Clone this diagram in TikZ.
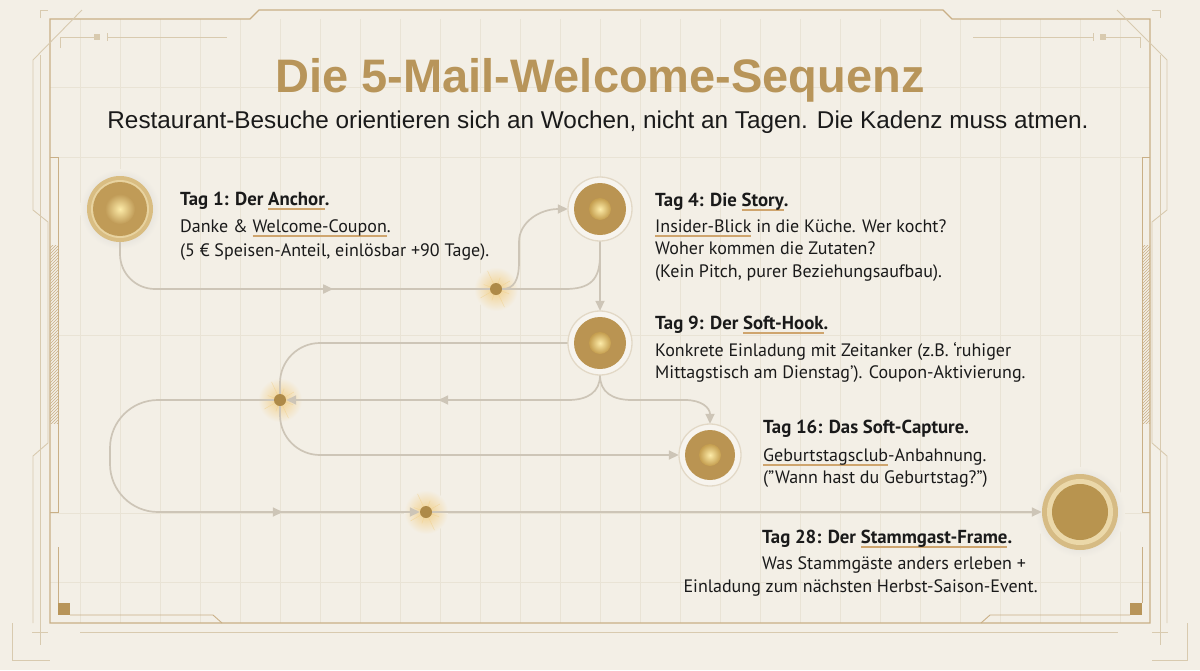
\documentclass[tikz,border=0pt]{standalone}
\usepackage{fontspec}
\setmainfont{PT Sans}
\newfontfamily\titlef{Liberation Sans}
\newfontfamily\bodyf{PT Sans}
\usetikzlibrary{arrows.meta,decorations.markings,patterns}
\definecolor{bg}{HTML}{F3EFE6}
\definecolor{gridc}{HTML}{E9E3D5}
\definecolor{framec}{HTML}{C9AF86}
\definecolor{decoc}{HTML}{D8CAAF}
\definecolor{connc}{HTML}{CDC5B7}
\definecolor{goldt}{HTML}{B8955A}
\definecolor{txt}{HTML}{1A1A1A}
\definecolor{ulc}{HTML}{CFA56E}
\definecolor{dotc}{HTML}{AE8A48}
\definecolor{glowc}{HTML}{F2D08A}
\definecolor{sqc}{HTML}{B8955A}
\definecolor{ringc}{HTML}{E2D8C6}
\definecolor{ringf}{HTML}{F7F4EE}
\definecolor{discc}{HTML}{BA9452}
\definecolor{sphin}{HTML}{FCEBA8}
\definecolor{sphout}{HTML}{C49D4E}
\definecolor{aout}{HTML}{D9BD82}
\definecolor{arim}{HTML}{E8D3A0}
\definecolor{ain}{HTML}{C09B57}
\definecolor{fout}{HTML}{D6BB84}
\definecolor{frim}{HTML}{EBD8A9}
\definecolor{fin}{HTML}{B8944F}
\newcommand\gul[1]{\setbox0\hbox{#1}\leavevmode\rlap{\textcolor{ulc}{\rule[-4.5pt]{\wd0}{1.3pt}}}\box0\relax}
\begin{document}
\begin{tikzpicture}[x=1pt,y=-1pt,
  conn/.style={draw=connc, line width=1.7pt},
  tip/.style={-{Triangle[length=10pt,width=9pt]}},
  midtip/.style={postaction={decorate,decoration={markings,mark=at position #1 with {\arrow{Triangle[length=10pt,width=9pt]}}}}},
  slot/.style={circle, inner sep=0pt, minimum size=#1},
  dotn/.style={circle, inner sep=0pt, minimum size=12pt},
  head/.style={anchor=base west, inner sep=0pt, text=txt, font=\bodyf\bfseries\fontsize{18.8}{22}\selectfont},
  body/.style={anchor=base west, inner sep=0pt, text=txt, font=\bodyf\fontsize{18}{22}\selectfont},
  gridl/.style={draw=gridc, line width=0.8pt},
  deco/.style={draw=decoc, line width=0.9pt},
  fr/.style={draw=framec, line width=1.2pt}]
\useasboundingbox (0,0) rectangle (1200,670);
\fill[bg] (0,0) rectangle (1200,670);
% grid
\foreach \gx in {80,120,...,1120} \draw[gridl] (\gx,19) -- (\gx,623);
\foreach \gy in {87,157,335,513,582} \draw[gridl] (50,\gy) -- (1150,\gy);
% frame
\draw[fr] (50,623) -- (50,19) -- (250,19) -- (259,10) -- (943,10) -- (952,19) -- (1150,19) -- (1150,623) -- cycle;
\draw[deco] (82,10) -- (33,60) -- (33,210) -- (48,222) -- (48,443) -- (33,456) -- (33,623);
\draw[deco] (40,55) -- (40,645);
\draw[deco] (1117,10) -- (1167,60) -- (1167,210) -- (1152,222) -- (1152,443) -- (1167,456) -- (1167,623);
\draw[deco] (1160,55) -- (1160,645);
\draw[deco] (40,18) -- (40,10) -- (48,10);
\draw[deco] (1152,10) -- (1160,10) -- (1160,18);
\draw[deco] (60,48) -- (60,37) -- (94,37);
\fill[decoc] (94,34) rectangle (100,40);
\draw[deco] (107,33) -- (107,41);
\draw[deco] (107,37) -- (227,37);
\draw[deco] (973,37) -- (1093,37);
\draw[deco] (1093,33) -- (1093,41);
\fill[decoc] (1100,34) rectangle (1106,40);
\draw[deco] (1106,37) -- (1140,37) -- (1140,48);
\draw[fr, line width=0.9pt] (50,157) -- (58,157) -- (58,512) -- (50,512);
\draw[fr, line width=0.9pt] (1150,157) -- (1142,157) -- (1142,512) -- (1150,512);
\fill[pattern=north east lines, pattern color=framec] (50,245) rectangle (58,423);
\fill[pattern=north east lines, pattern color=framec] (1142,245) rectangle (1150,423);
\draw[fr, line width=0.9pt] (58,547) -- (58,603);
\draw[fr, line width=0.9pt] (1142,547) -- (1142,603);
\fill[sqc] (58,603) rectangle (70,615);
\fill[sqc] (1130,603) rectangle (1142,615);
\draw[fr, line width=0.9pt] (70,615) -- (213,615) -- (222,623);
\draw[fr, line width=0.9pt] (1130,615) -- (990,615) -- (981,623);
\draw[deco] (80,632) -- (1118,632);
\draw[deco] (32,632) -- (48,632);
\draw[deco] (1152,632) -- (1168,632);
\draw[deco] (12,623) -- (12,660) -- (50,660);
\draw[deco] (1187,623) -- (1187,660) -- (1152,660);
% title
\node[anchor=base, inner sep=0pt, text=goldt, font=\titlef\bfseries\fontsize{47}{47}\selectfont] (title) at (600,92) {Die 5-Mail-Welcome-Sequenz};
\node[anchor=base, inner sep=0pt, text=txt, font=\titlef\fontsize{24.3}{24}\selectfont] (sub) at (598,128) {Restaurant-Besuche orientieren sich an Wochen, nicht an Tagen. Die Kadenz muss atmen.};
% node slots
\node[slot=66pt] (n1) at (120,209) {};
\node[slot=64pt] (n2) at (600,209) {};
\node[slot=64pt] (n3) at (600,343) {};
\node[slot=62pt] (n4) at (710,455) {};
\node[slot=76pt] (n5) at (1080,512) {};
\node[dotn] (d1) at (496,289) {};
\node[dotn] (d2) at (280,400) {};
\node[dotn] (d3) at (426,512) {};
% shadows
\shade[inner color=black!25, outer color=bg] (n1) circle (40);
\shade[inner color=black!25, outer color=bg] (n5) circle (45);
% glows
\foreach \d in {d1,d2,d3}{
  \shade[inner color=glowc, outer color=bg] (\d) circle (22);
  \foreach \a/\l in {20/14,65/20,110/12,150/18,200/13,245/20,290/12,330/16}
    \draw[glowc, line width=0.5pt, opacity=0.6] (\d) -- ++(\a:\l);
}
% connectors
\draw[conn, rounded corners=35pt, midtip=245pt] (n1.south) |- (d1);
\draw[conn, tip] (d1) .. controls (514,289) and (519,280) .. (519,262) -- (519,242) .. controls (519,222) and (540,209) .. (n2.west);
\draw[conn] (d1) -- (565,289) .. controls (590,289) and (600,280) .. (600,255) -- (n2.south);
\draw[conn, tip] (n2.south) -- (n3.north);
\draw[conn, tip, rounded corners=40pt] (n3.west) -- (280,343) -- (280,455) -- (n4.west);
\draw[conn, tip, midtip=-152pt] (n3.south) .. controls (600,392) and (588,400) .. (568,400) -- (d2);
\draw[conn, tip] (n3.south) .. controls (600,392) and (612,400) .. (632,400) -- (685,400) .. controls (702,400) and (710,408) .. (n4.north);
\draw[conn, tip, rounded corners=48pt, midtip=-137pt] (d2) -- (110,400) -- (110,512) -- (d3);
\draw[conn, tip] (d3) -- (n5.west);
% node 1
\fill[aout] (n1) circle (33);
\fill[arim] (n1) circle (29);
\fill[ain] (n1) circle (27);
\shade[inner color=sphin, outer color=ain] (n1) circle (15);
% nodes 2-4
\foreach \n/\r in {n2/32,n3/32,n4/31}{
  \filldraw[fill=ringf, draw=ringc, line width=1.3pt] (\n) circle (\r);
  \fill[discc] (\n) circle (\r-6);
  \shade[inner color=sphin, outer color=sphout] (\n) circle (11);
}
% node 5
\fill[fout] (n5) circle (38);
\fill[frim] (n5) circle (33);
\fill[fin] (n5) circle (28);
% dots
\foreach \d in {d1,d2,d3} \fill[dotc] (\d) circle (6);
% texts
\node[head] (t1a) at (180,205) {Tag 1: Der \gul{Anchor}.};
\node[body] (t1b) at (180,232) {Danke \& \gul{Welcome-Coupon}.};
\node[body] (t1c) at (180,256) {(5 € Speisen-Anteil, einlösbar +90 Tage).};
\node[head] (t2a) at (655,206) {Tag 4: Die \gul{Story}.};
\node[body] (t2b) at (655,232) {\gul{Insider-Blick} in die Küche. Wer kocht?};
\node[body] (t2c) at (655,254) {Woher kommen die Zutaten?};
\node[body] (t2d) at (655,277) {(Kein Pitch, purer Beziehungsaufbau).};
\node[head] (t3a) at (655,329) {Tag 9: Der \gul{Soft-Hook}.};
\node[body] (t3b) at (655,356) {Konkrete Einladung mit Zeitanker (z.B. ‘ruhiger};
\node[body] (t3c) at (655,378) {Mittagstisch am Dienstag’). Coupon-Aktivierung.};
\node[head] (t4a) at (763,433) {Tag 16: Das Soft-Capture.};
\node[body] (t4b) at (763,461) {\gul{Geburtstagsclub}-Anbahnung.};
\node[body] (t4c) at (763,483) {(”Wann hast du Geburtstag?”)};
\node[head] (t5a) at (762,543) {Tag 28: Der \gul{Stammgast-Frame}.};
\node[body] (t5b) at (762,569) {Was Stammgäste anders erleben +};
\node[body, anchor=base east] (t5c) at (1038,592) {Einladung zum nächsten Herbst-Saison-Event.};
\end{tikzpicture}
\end{document}
